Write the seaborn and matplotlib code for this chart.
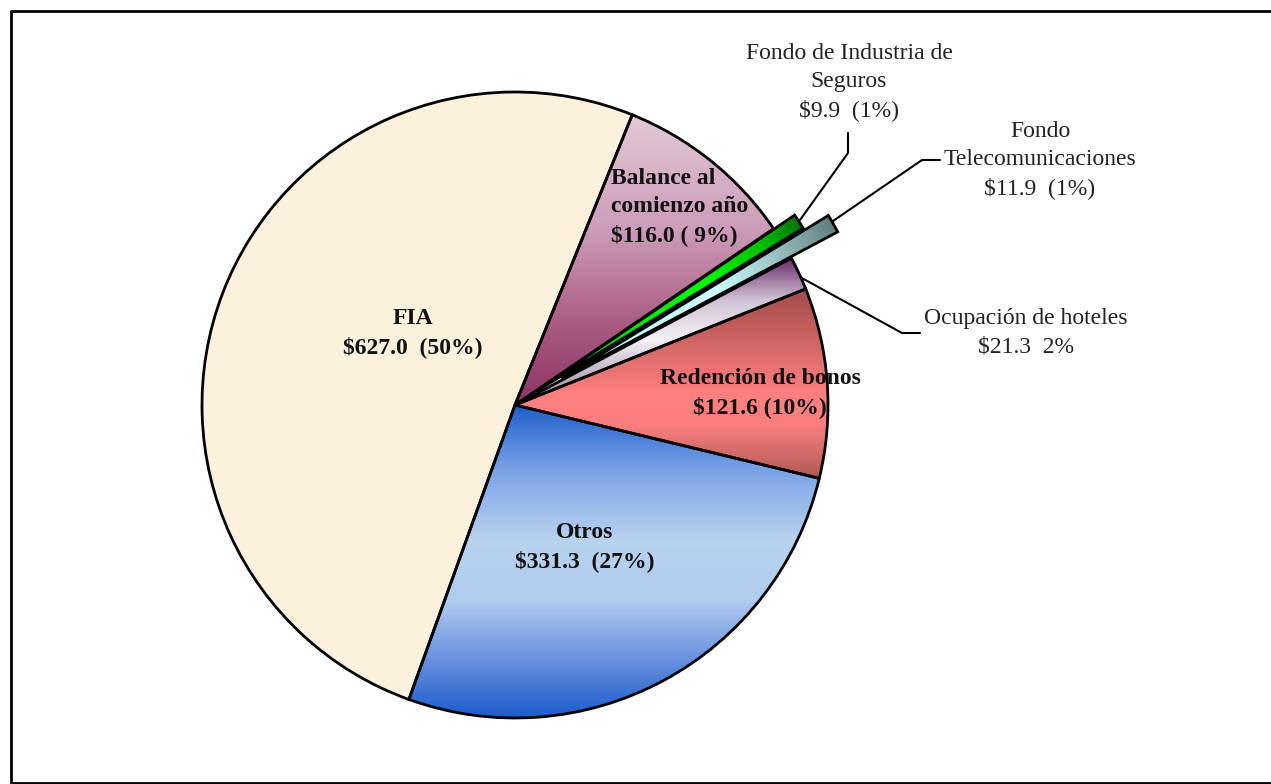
import numpy as np
import matplotlib.pyplot as plt
import seaborn as sns
from matplotlib.colors import LinearSegmentedColormap

sns.set_theme(style="white")
plt.rcParams['font.family'] = ['Liberation Serif', 'DejaVu Serif']

# data (millones $), clockwise starting at "Balance"
names = ["Balance al\ncomienzo año", "Fondo de Industria de\nSeguros", "Fondo\nTelecomunicaciones",
         "Ocupación de hoteles", "Redención de bonos", "Otros", "FIA"]
values = [116.0, 9.9, 11.9, 21.3, 121.6, 331.3, 627.0]
value_text = ["$116.0 ( 9%)", "$9.9  (1%)", "$11.9  (1%)", "$21.3  2%",
              "$121.6 (10%)", "$331.3  (27%)", "$627.0  (50%)"]
explode = [0, 0.08, 0.17, 0, 0, 0, 0]

# figure in pixel units, pie centre / radius in pixels
W, H = 1271, 784
cx, cy, R = 515, 405, 313


def px(x, y):
    return (x - cx) / R, (cy - y) / R


fig = plt.figure(figsize=(W / 100, H / 100), dpi=100)
ax = fig.add_axes([0, 0, 1, 1])

wedges, _ = ax.pie(values, explode=explode, startangle=68, counterclock=False,
                   radius=1, center=(0, 0),
                   wedgeprops=dict(edgecolor='black', linewidth=2, zorder=3))
for w in wedges:
    w.set_facecolor('none')

x0, x1 = px(0, 0)[0], px(W, 0)[0]
y1, y0 = px(0, 0)[1], px(0, H)[1]
gx, gy = np.meshgrid(np.arange(W) + 0.5, np.arange(H) + 0.5)
dist = np.hypot(gx - cx, gy - cy)

# gradient fills (stops in pixel y for vertical, pixel radius for radial)
fills = [
    ('v', [(95, '#E6D0DC'), (230, '#CC9CB8'), (330, '#A8587F'), (400, '#8C3866')]),
    ('r', [(0, '#009000'), (120, '#00E000'), (220, '#00FF00'), (295, '#00C000'), (340, '#007000')]),
    ('r', [(0, '#BFEFEF'), (230, '#CCFFFF'), (295, '#A0C8C8'), (368, '#5E7E7C')]),
    ('v', [(258, '#6B2B6B'), (300, '#D0C4D4'), (340, '#F4F0F6'), (405, '#8C7C94')]),
    ('v', [(285, '#9E4A48'), (395, '#FF8080'), (425, '#FA7E7E'), (485, '#A65450')]),
    ('v', [(405, '#1F5FCC'), (470, '#7AA2E6'), (540, '#B8D3EF'), (600, '#B0CCEE'),
           (660, '#6890E0'), (718, '#1C5CCC')]),
    ('s', [(0, '#FCF1DD'), (1, '#FCF1DD')]),
]

for w, (mode, stops) in zip(wedges, fills):
    lo, hi = stops[0][0], stops[-1][0]
    cmap = LinearSegmentedColormap.from_list(
        'g', [((s - lo) / (hi - lo), c) for s, c in stops])
    if mode == 'v':
        t = (gy - lo) / (hi - lo)
    elif mode == 'r':
        t = (dist - lo) / (hi - lo)
    else:
        t = np.zeros_like(gx)
    img = cmap(np.clip(t, 0, 1))
    im = ax.imshow(img, extent=(x0, x1, y0, y1), origin='upper',
                   interpolation='nearest', zorder=1)
    im.set_clip_path(w)

# labels inside slices (x, y, horizontal alignment)
inner = {0: (611, 207, 'left'), 4: (760, 393, 'center'),
         5: (585, 547, 'center'), 6: (413, 333, 'center')}
for i, (x, y, ha) in inner.items():
    ax.text(*px(x, y), names[i] + "\n" + value_text[i], ha=ha, va='center',
            multialignment=ha, fontsize=17, fontweight='bold', linespacing=1.45,
            color='#111111', zorder=5)

# labels outside with leader lines
outer = {1: (849, 82), 2: (1040, 160), 3: (1026, 333)}
for i, (x, y) in outer.items():
    ax.text(*px(x, y), names[i] + "\n" + value_text[i], ha='center', va='center',
            fontsize=17, linespacing=1.45, color='#222222', zorder=5)

leaders = [
    [(800, 220), (848, 153), (848, 133)],
    [(833, 221), (922, 160), (940, 160)],
    [(800, 277), (902, 333), (920, 333)],
]
for pts in leaders:
    xs, ys = zip(*[px(a, b) for a, b in pts])
    ax.plot(xs, ys, color='black', lw=1.5, zorder=4)

# outer frame
fx, fy = zip(*[px(a, b) for a, b in [(1275, 11), (11, 11), (11, 782.5), (1275, 782.5)]])
ax.plot(fx, fy, color='black', lw=2, zorder=6, clip_on=False)

ax.set_xlim(x0, x1)
ax.set_ylim(y0, y1)
ax.set_aspect('auto')
ax.axis('off')

fig.savefig('out.png', dpi=100)
